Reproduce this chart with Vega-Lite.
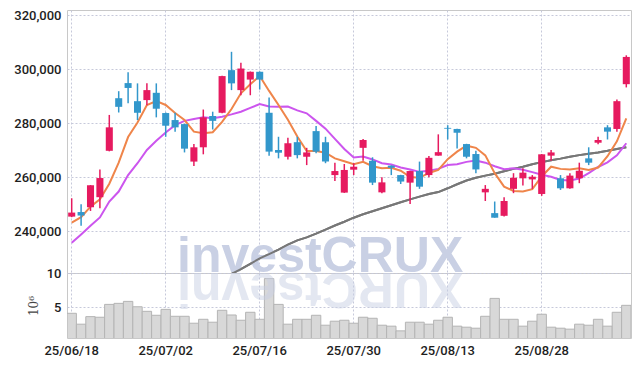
{
  "$schema": "https://vega.github.io/schema/vega-lite/v6.json",
  "background": "white",
  "padding": {"left": 13, "top": 8, "right": 6, "bottom": 4},
  "spacing": 0,
  "bounds": "flush",
  "config": {
    "view": {"stroke": "#c8c8c8", "strokeWidth": 1},
    "axis": {
      "labelFont": "Roboto",
      "labelFontSize": 13,
      "labelFontWeight": 500,
      "labelColor": "#1e1e1e",
      "gridColor": "#c6c9da",
      "gridDash": [2, 2],
      "gridWidth": 1,
      "ticks": false,
      "domain": false
    }
  },
  "datasets": {
    "k": [
      {"d": "25/06/18", "o": 245400, "h": 252200, "l": 245200, "c": 246900, "v": 4.08, "m5": 243200, "m10": 235700, "mg": null},
      {"d": "25/06/19", "o": 247100, "h": 250000, "l": 242000, "c": 245800, "v": 2.48, "m5": 245200, "m10": 238800, "mg": null},
      {"d": "25/06/20", "o": 248900, "h": 257100, "l": 247500, "c": 257000, "v": 3.59, "m5": 249100, "m10": 242000, "mg": null},
      {"d": "25/06/23", "o": 252600, "h": 262900, "l": 248500, "c": 259700, "v": 3.50, "m5": 251800, "m10": 245100, "mg": null},
      {"d": "25/06/24", "o": 269800, "h": 283100, "l": 269600, "c": 278500, "v": 5.39, "m5": 257600, "m10": 251000, "mg": null},
      {"d": "25/06/25", "o": 289300, "h": 291900, "l": 284000, "c": 286100, "v": 5.54, "m5": 265400, "m10": 254700, "mg": null},
      {"d": "25/06/26", "o": 294900, "h": 298900, "l": 287400, "c": 293100, "v": 5.83, "m5": 274900, "m10": 260800, "mg": null},
      {"d": "25/06/27", "o": 288200, "h": 294800, "l": 281200, "c": 283900, "v": 5.04, "m5": 280300, "m10": 265200, "mg": null},
      {"d": "25/06/30", "o": 288600, "h": 294800, "l": 286700, "c": 292300, "v": 4.37, "m5": 286800, "m10": 270100, "mg": null},
      {"d": "25/07/01", "o": 291300, "h": 294800, "l": 282200, "c": 285400, "v": 3.79, "m5": 288200, "m10": 273500, "mg": null},
      {"d": "25/07/02", "o": 283800, "h": 284000, "l": 275000, "c": 279100, "v": 4.66, "m5": 286800, "m10": 276600, "mg": null},
      {"d": "25/07/03", "o": 281200, "h": 283900, "l": 276900, "c": 278500, "v": 3.64, "m5": 283800, "m10": 279300, "mg": null},
      {"d": "25/07/04", "o": 279700, "h": 279800, "l": 269200, "c": 270600, "v": 3.64, "m5": 281200, "m10": 280900, "mg": null},
      {"d": "25/07/07", "o": 265800, "h": 272300, "l": 264200, "c": 271100, "v": 2.62, "m5": 276900, "m10": 281600, "mg": null},
      {"d": "25/07/08", "o": 271100, "h": 285100, "l": 268500, "c": 282200, "v": 3.20, "m5": 276300, "m10": 282200, "mg": null},
      {"d": "25/07/09", "o": 282700, "h": 284300, "l": 277700, "c": 280900, "v": 2.77, "m5": 276700, "m10": 281900, "mg": null},
      {"d": "25/07/10", "o": 283900, "h": 297600, "l": 283700, "c": 297500, "v": 4.52, "m5": 280500, "m10": 282400, "mg": 222400},
      {"d": "25/07/11", "o": 299700, "h": 306500, "l": 292300, "c": 294800, "v": 3.83, "m5": 285300, "m10": 283300, "mg": 224200},
      {"d": "25/07/14", "o": 292300, "h": 302400, "l": 290400, "c": 300300, "v": 3.06, "m5": 291100, "m10": 284300, "mg": 225900},
      {"d": "25/07/15", "o": 296200, "h": 299200, "l": 290400, "c": 299100, "v": 4.23, "m5": 294500, "m10": 285700, "mg": 227900},
      {"d": "25/07/16", "o": 299100, "h": 299200, "l": 292500, "c": 296200, "v": 3.20, "m5": 297500, "m10": 287100, "mg": 229900},
      {"d": "25/07/17", "o": 283900, "h": 289600, "l": 268000, "c": 269500, "v": 9.18, "m5": 292000, "m10": 286200, "mg": 231500},
      {"d": "25/07/18", "o": 270100, "h": 275000, "l": 267000, "c": 269100, "v": 5.39, "m5": 286800, "m10": 286100, "mg": 233200},
      {"d": "25/07/21", "o": 267600, "h": 274600, "l": 266600, "c": 272600, "v": 2.48, "m5": 281300, "m10": 286200, "mg": 235000},
      {"d": "25/07/22", "o": 273000, "h": 275000, "l": 267000, "c": 268200, "v": 3.20, "m5": 275100, "m10": 284800, "mg": 236600},
      {"d": "25/07/23", "o": 267600, "h": 270900, "l": 264500, "c": 269200, "v": 3.20, "m5": 269700, "m10": 283700, "mg": 237700},
      {"d": "25/07/24", "o": 277100, "h": 279000, "l": 268900, "c": 269500, "v": 3.79, "m5": 269700, "m10": 280900, "mg": 239100},
      {"d": "25/07/25", "o": 273000, "h": 275000, "l": 265200, "c": 265800, "v": 2.33, "m5": 269100, "m10": 278000, "mg": 240600},
      {"d": "25/07/28", "o": 260800, "h": 265400, "l": 258600, "c": 262300, "v": 2.92, "m5": 267000, "m10": 274200, "mg": 242100},
      {"d": "25/07/29", "o": 254300, "h": 264900, "l": 254200, "c": 262700, "v": 3.06, "m5": 265900, "m10": 270500, "mg": 243500},
      {"d": "25/07/30", "o": 262800, "h": 265200, "l": 260800, "c": 263900, "v": 2.62, "m5": 264800, "m10": 267300, "mg": 245000},
      {"d": "25/07/31", "o": 270900, "h": 274200, "l": 266100, "c": 273800, "v": 3.50, "m5": 265700, "m10": 267700, "mg": 246300},
      {"d": "25/08/01", "o": 266100, "h": 267400, "l": 257100, "c": 258000, "v": 3.35, "m5": 264100, "m10": 266600, "mg": 247400},
      {"d": "25/08/04", "o": 254400, "h": 260000, "l": 254100, "c": 258100, "v": 2.33, "m5": 263300, "m10": 265200, "mg": 248500},
      {"d": "25/08/05", "o": 264300, "h": 264400, "l": 260800, "c": 263500, "v": 2.19, "m5": 263500, "m10": 264700, "mg": 249600},
      {"d": "25/08/06", "o": 260800, "h": 260900, "l": 257500, "c": 258400, "v": 1.50, "m5": 262400, "m10": 263600, "mg": 250700},
      {"d": "25/08/07", "o": 258000, "h": 262400, "l": 250100, "c": 262300, "v": 2.77, "m5": 260100, "m10": 262900, "mg": 251800},
      {"d": "25/08/08", "o": 262300, "h": 265800, "l": 255700, "c": 256500, "v": 2.77, "m5": 259800, "m10": 262000, "mg": 252800},
      {"d": "25/08/11", "o": 260800, "h": 267900, "l": 260000, "c": 267200, "v": 2.48, "m5": 261600, "m10": 262400, "mg": 253800},
      {"d": "25/08/12", "o": 268000, "h": 275900, "l": 268000, "c": 269300, "v": 3.06, "m5": 262700, "m10": 263100, "mg": 254500},
      {"d": "25/08/13", "o": 278300, "h": 279300, "l": 274000, "c": 278000, "v": 3.50, "m5": 266700, "m10": 264500, "mg": 255900},
      {"d": "25/08/14", "o": 277900, "h": 278000, "l": 270700, "c": 276500, "v": 2.19, "m5": 269500, "m10": 264800, "mg": 257400},
      {"d": "25/08/18", "o": 272300, "h": 272400, "l": 267000, "c": 267600, "v": 2.04, "m5": 271700, "m10": 265700, "mg": 258800},
      {"d": "25/08/19", "o": 268600, "h": 269800, "l": 261500, "c": 262900, "v": 1.89, "m5": 270900, "m10": 266200, "mg": 259800},
      {"d": "25/08/20", "o": 254400, "h": 257100, "l": 251200, "c": 255700, "v": 3.64, "m5": 268100, "m10": 265400, "mg": 260600},
      {"d": "25/08/21", "o": 246700, "h": 251000, "l": 245000, "c": 245000, "v": 6.27, "m5": 261500, "m10": 264100, "mg": 261300},
      {"d": "25/08/22", "o": 245700, "h": 252600, "l": 245400, "c": 251200, "v": 3.20, "m5": 256500, "m10": 263000, "mg": 262200},
      {"d": "25/08/25", "o": 255700, "h": 261500, "l": 254100, "c": 259800, "v": 3.20, "m5": 254900, "m10": 263300, "mg": 263100},
      {"d": "25/08/26", "o": 259600, "h": 263300, "l": 256900, "c": 261700, "v": 2.19, "m5": 254700, "m10": 262800, "mg": 263900},
      {"d": "25/08/27", "o": 259200, "h": 260800, "l": 255700, "c": 260200, "v": 2.92, "m5": 255600, "m10": 261900, "mg": 264800},
      {"d": "25/08/28", "o": 253800, "h": 268600, "l": 253100, "c": 268500, "v": 3.94, "m5": 260300, "m10": 260900, "mg": 265600},
      {"d": "25/08/29", "o": 268000, "h": 270100, "l": 266100, "c": 269200, "v": 2.04, "m5": 263900, "m10": 260200, "mg": 266300},
      {"d": "25/09/01", "o": 259600, "h": 260800, "l": 255300, "c": 255900, "v": 1.89, "m5": 263100, "m10": 259000, "mg": 266900},
      {"d": "25/09/02", "o": 255900, "h": 261500, "l": 255700, "c": 260600, "v": 1.75, "m5": 262900, "m10": 258800, "mg": 267600},
      {"d": "25/09/03", "o": 259600, "h": 265400, "l": 257800, "c": 262400, "v": 2.48, "m5": 263300, "m10": 259500, "mg": 268200},
      {"d": "25/09/04", "o": 267000, "h": 271100, "l": 264500, "c": 265400, "v": 2.33, "m5": 262700, "m10": 261500, "mg": 268700},
      {"d": "25/09/05", "o": 272800, "h": 275000, "l": 272200, "c": 273800, "v": 3.20, "m5": 263600, "m10": 263800, "mg": 269200},
      {"d": "25/09/08", "o": 278500, "h": 279300, "l": 274000, "c": 276900, "v": 2.19, "m5": 267800, "m10": 265500, "mg": 269800},
      {"d": "25/09/09", "o": 277900, "h": 288800, "l": 276900, "c": 288200, "v": 4.23, "m5": 273300, "m10": 268100, "mg": 270500},
      {"d": "25/09/10", "o": 294500, "h": 305200, "l": 293300, "c": 304600, "v": 5.25, "m5": 281800, "m10": 272600, "mg": 271100}
    ],
    "wm": [{"t": "investCRUX", "r": "XURCtsevni", "d": "25/07/03"}]
  },
  "vconcat": [
    {
      "width": 564,
      "height": 263,
      "layer": [
        {
          "data": {"name": "k"},
          "mark": {"type": "line", "color": "#777777", "strokeWidth": 2, "clip": true},
          "encoding": {
            "x": {
              "field": "d", "type": "ordinal", "sort": null,
              "scale": {"paddingInner": 0, "paddingOuter": 0},
              "axis": {
                "values": ["25/06/18", "25/07/02", "25/07/16", "25/07/30", "25/08/13", "25/08/28"],
                "labels": false, "grid": true, "bandPosition": 0.5, "title": null,
                "minExtent": 0, "maxExtent": 0
              }
            },
            "y": {"field": "mg", "type": "quantitative", "scale": {"domain": [224500, 322000], "nice": false, "zero": false},
              "axis": {"values": [240000, 260000, 280000, 300000, 320000], "format": ",d", "title": null, "grid": true, "labelPadding": 6}}
          }
        },
        {
          "data": {"name": "wm"},
          "mark": {"type": "text", "font": "Liberation Sans", "fontWeight": "bold", "fontSize": 50, "align": "left", "baseline": "alphabetic", "color": "#c9d0e4", "dx": 2, "dy": -1},
          "encoding": {
            "x": {"field": "d", "type": "ordinal", "sort": null},
            "y": {"datum": 224500},
            "text": {"field": "t"}
          }
        },
        {
          "data": {"name": "k"},
          "mark": {"type": "line", "color": "#777777", "strokeWidth": 2, "clip": true},
          "encoding": {"x": {"field": "d", "type": "ordinal", "sort": null}, "y": {"field": "mg", "type": "quantitative"}}
        },
        {
          "data": {"name": "k"},
          "mark": {"type": "line", "color": "#cc55ee", "strokeWidth": 2, "clip": true},
          "encoding": {"x": {"field": "d", "type": "ordinal", "sort": null}, "y": {"field": "m10", "type": "quantitative"}}
        },
        {
          "data": {"name": "k"},
          "mark": {"type": "line", "color": "#ef854a", "strokeWidth": 2, "clip": true},
          "encoding": {"x": {"field": "d", "type": "ordinal", "sort": null}, "y": {"field": "m5", "type": "quantitative"}}
        },
        {
          "data": {"name": "k"},
          "mark": {"type": "rule", "strokeWidth": 1.5},
          "encoding": {
            "x": {"field": "d", "type": "ordinal", "sort": null},
            "y": {"field": "l", "type": "quantitative"},
            "y2": {"field": "h"},
            "color": {"condition": {"test": "datum.c >= datum.o", "value": "#e61a5f"}, "value": "#3297cb"}
          }
        },
        {
          "data": {"name": "k"},
          "mark": {"type": "bar", "width": {"band": 0.75}},
          "encoding": {
            "x": {"field": "d", "type": "ordinal", "sort": null},
            "y": {"field": "o", "type": "quantitative"},
            "y2": {"field": "c"},
            "color": {"condition": {"test": "datum.c >= datum.o", "value": "#e61a5f"}, "value": "#3297cb"}
          }
        }
      ]
    },
    {
      "width": 564,
      "height": 65,
      "layer": [
        {
          "data": {"name": "k"},
          "mark": {"type": "bar", "fill": "#d8d8d8", "stroke": "#b4b4b4", "strokeWidth": 1, "clip": true},
          "encoding": {
            "x": {
              "field": "d", "type": "ordinal", "sort": null,
              "scale": {"paddingInner": 0, "paddingOuter": 0},
              "axis": {
                "values": ["25/06/18", "25/07/02", "25/07/16", "25/07/30", "25/08/13", "25/08/28"],
                "labelAngle": 0, "labelPadding": 6, "grid": true, "bandPosition": 0.5, "title": null
              }
            },
            "y": {"field": "v", "type": "quantitative", "scale": {"domain": [0.45, 10], "nice": false, "zero": false},
              "axis": {"values": [5, 10], "title": "10⁶", "titleFont": "DejaVu Serif", "titleFontSize": 12, "titleFontWeight": "normal", "titleColor": "#444444", "titlePadding": 6, "grid": true, "labelPadding": 6}}
          }
        },
        {
          "data": {"name": "wm"},
          "mark": {"type": "text", "font": "Liberation Sans", "fontWeight": "bold", "fontSize": 50, "align": "right", "baseline": "alphabetic", "angle": 180, "color": "#c9d0e4", "opacity": 0.5, "dx": -2, "dy": 0},
          "encoding": {
            "x": {"field": "d", "type": "ordinal", "sort": null},
            "y": {"datum": 10},
            "text": {"field": "r"}
          }
        }
      ]
    }
  ]
}
